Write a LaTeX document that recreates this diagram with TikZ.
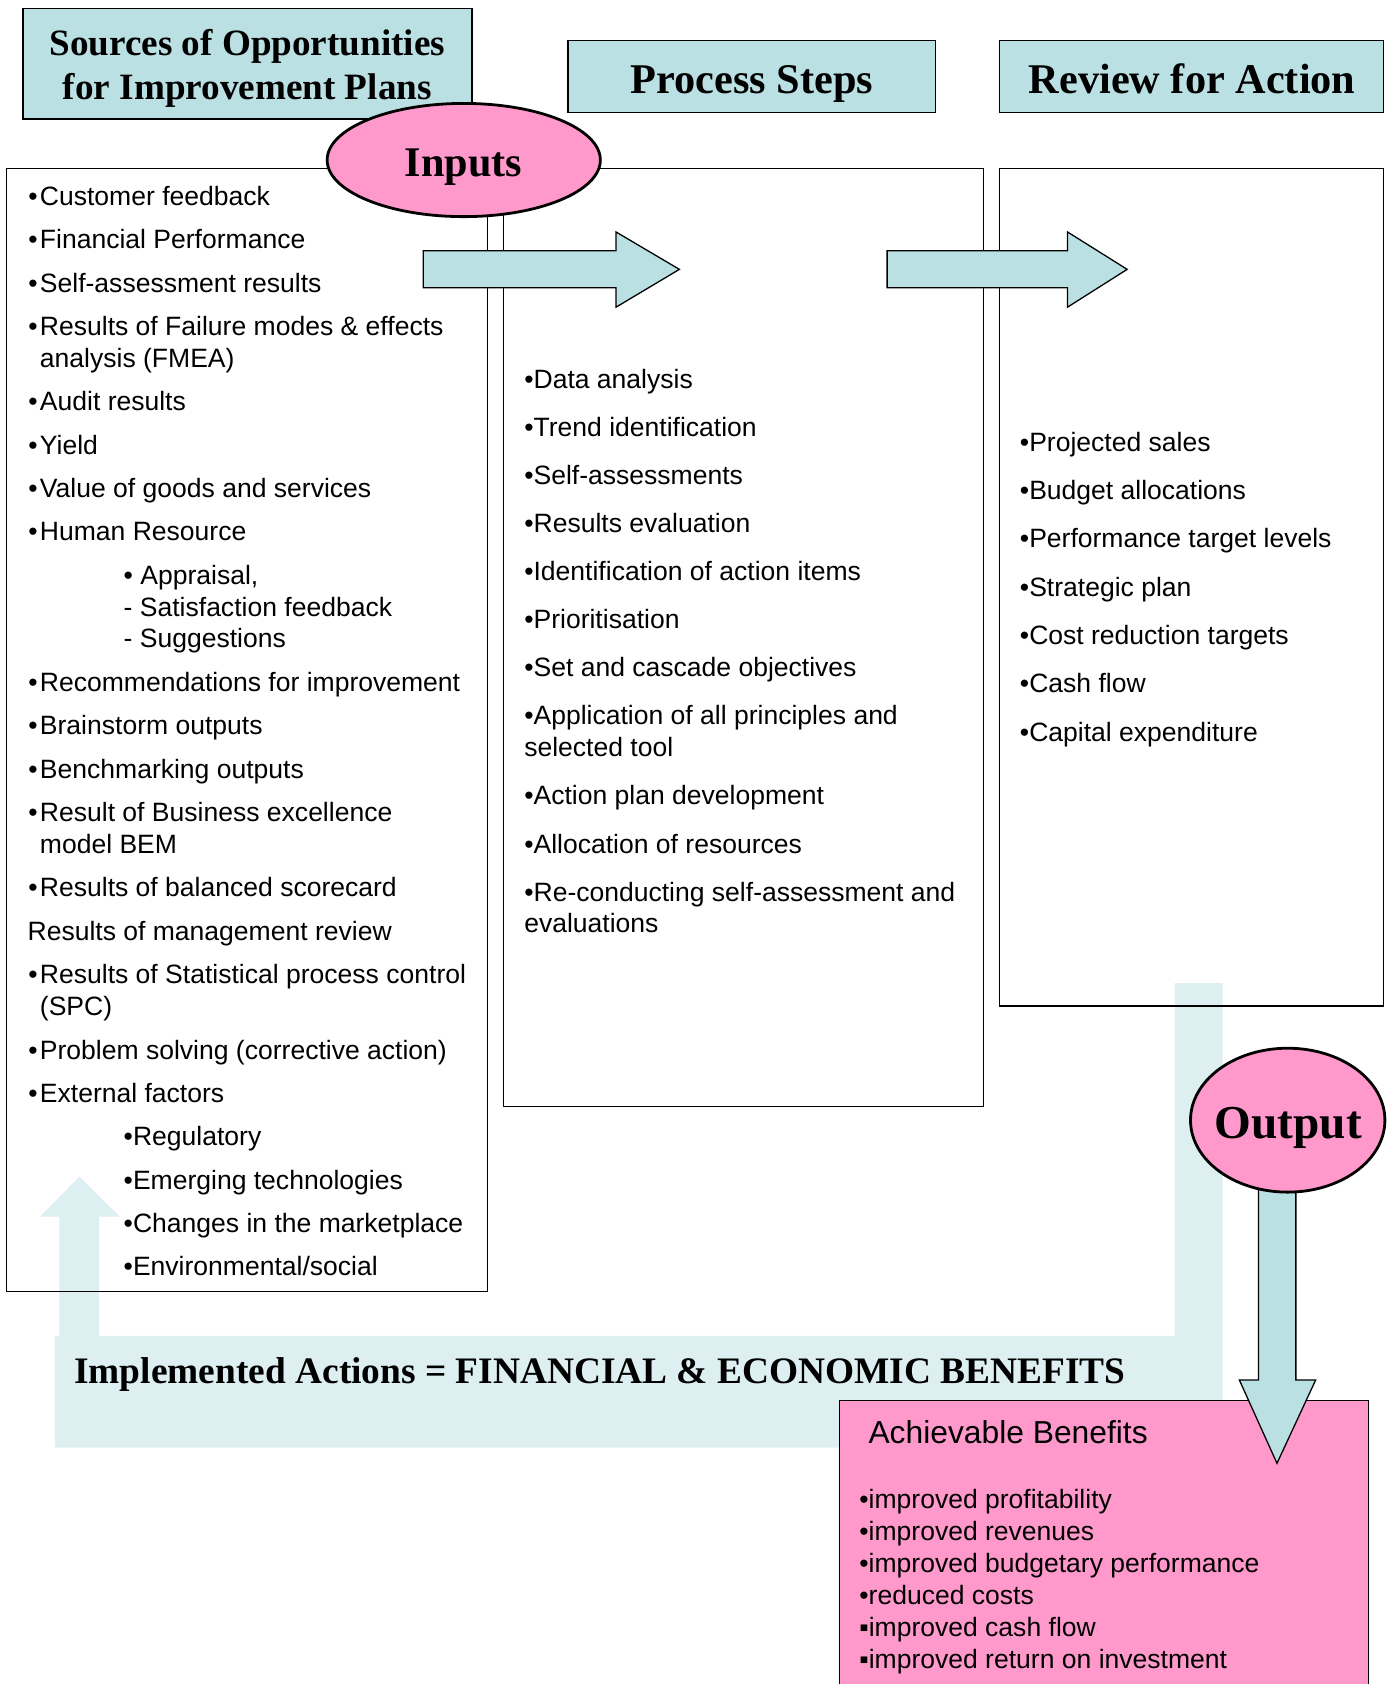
\documentclass[tikz,border=0pt]{standalone}
\usepackage{fontspec}
\setmainfont{Liberation Serif}
\newfontfamily\arial{Liberation Sans}
\usetikzlibrary{shapes.geometric}
\definecolor{hdrblue}{HTML}{BBE0E3}
\definecolor{paleblue}{HTML}{DDEFF1}
\definecolor{pinkfill}{HTML}{FF99CC}
\begin{document}
\begin{tikzpicture}[x=1pt,y=-1pt,
  frame/.style={draw=black, line width=1.3pt},
  hdrbox/.style={draw=black, line width=1.4pt, fill=hdrblue, inner sep=0pt},
  oval/.style={ellipse, draw=black, line width=2.6pt, fill=pinkfill, inner sep=0pt},
  blockarrow/.style={draw=black, line width=1.2pt, fill=hdrblue, line join=miter},
  itm/.style={anchor=base west, inner sep=0pt, yshift=-1pt, font=\arial\fontsize{24.7}{29.6}\selectfont},
  hdrtext/.style={anchor=base, inner sep=0pt, yshift=-2pt, font=\bfseries\fontsize{39.4}{44}\selectfont},
  srctext/.style={anchor=base, inner sep=0pt, yshift=-1.2pt, font=\bfseries\fontsize{34.6}{40}\selectfont}]
\clip (0,0) rectangle (1295,1568);
\fill[white] (0,0) rectangle (1295,1568);

% pale feedback loop arrow (behind everything)
\fill[paleblue] (1094,915.5) -- (1138.5,915.5) -- (1138.5,1348) -- (51,1348) -- (51,1243.8)
  -- (55.3,1243.8) -- (55.3,1132.8) -- (37.4,1132.8) -- (74,1095.5) -- (111.4,1132.8)
  -- (92.3,1132.8) -- (92.3,1243.8) -- (1094,1243.8) -- cycle;

% three column frames
\node[frame, minimum width=447.8pt, minimum height=1045.9pt, inner sep=0pt] (leftbox) at (230.1,679.65) {};
\node[frame, minimum width=446.5pt, minimum height=873.6pt, inner sep=0pt] (midbox) at (692.25,593.5) {};
\node[frame, minimum width=357.3pt, minimum height=779.9pt, inner sep=0pt] (rightbox) at (1109.35,546.65) {};

% header boxes
\node[hdrbox, minimum width=417.7pt, minimum height=103pt] (srchdr) at (230.45,59.3) {};
\node[hdrbox, minimum width=342.3pt, minimum height=67pt] (prochdr) at (699.85,71.4) {};
\node[hdrbox, minimum width=357.3pt, minimum height=67pt] (revhdr) at (1109.35,71.4) {};
\node[srctext] (srct1) at (230.3,50.6) {Sources of Opportunities};
\node[srctext] (srct2) at (230.3,91.5) {for Improvement Plans};
\node[hdrtext] (proct) at (700,85.4) {Process Steps};
\node[hdrtext] (revt) at (1110,85.4) {Review for Action};

% achievable benefits box
\node[draw=black, line width=1.3pt, fill=pinkfill, minimum width=492.3pt, minimum height=300pt, inner sep=0pt] (benbox) at (1027.85,1454) {};

% output arrow down into benefits box
\draw[blockarrow] (1171.7,1100) -- (1171.7,1285) -- (1154,1285) -- (1189,1362.5) -- (1225,1285)
  -- (1206.6,1285) -- (1206.6,1100) -- cycle;
\node[oval, minimum width=181pt, minimum height=134pt] (outp) at (1199,1043) {};
\node[anchor=base, inner sep=0pt, font=\bfseries\fontsize{44}{50}\selectfont] (outpt) at (1199.6,1060) {Output};

% block arrows between columns
\draw[blockarrow] (394,233.4) -- (573.6,233.4) -- (573.6,216) -- (632.6,250.8) -- (573.6,286)
  -- (573.6,268) -- (394,268) -- cycle;
\draw[blockarrow] (826,233.4) -- (994,233.4) -- (994,216) -- (1049.5,250.8) -- (994,286)
  -- (994,268) -- (826,268) -- cycle;

% inputs ellipse
\node[oval, minimum width=254.4pt, minimum height=105.4pt] (inp) at (431.8,149) {};
\node[anchor=base, inner sep=0pt, font=\bfseries\fontsize{39.3}{44}\selectfont] (inpt) at (431.4,164) {Inputs};

% loop caption
\node[anchor=base west, inner sep=0pt, font=\bfseries\fontsize{34.8}{40}\selectfont] (impl) at (69,1288) {Implemented Actions = FINANCIAL \& ECONOMIC BENEFITS};

% left list: bulleted main items
\foreach \yy/\txt [count=\i] in {190.5/Customer feedback, 230.8/Financial Performance,
  271/Self-assessment results, 311.3/Results of Failure modes \& effects, 381.5/Audit results,
  422/Yield, 462.3/Value of goods and services, 502.6/Human Resource,
  643/Recommendations for improvement, 683.3/Brainstorm outputs, 723.6/Benchmarking outputs,
  764/Result of Business excellence, 834.2/Results of balanced scorecard,
  915/Results of Statistical process control, 985.3/Problem solving (corrective action),
  1025.6/External factors}{
  \node[itm] (lb\i) at (26.3,\yy) {•};
  \node[itm] (lt\i) at (37,\yy) {\txt};
}
% left list: continuation lines
\node[itm] (lc1) at (37,341) {analysis (FMEA)};
\node[itm] (lc2) at (37,793.6) {model BEM};
\node[itm] (lc3) at (37,945) {(SPC)};
\node[itm] (lmr) at (25.5,875) {Results of management review};
% left list: sub items
\foreach \yy/\txt [count=\i] in {543/{• Appraisal,}, 572.6/- Satisfaction feedback, 602.3/- Suggestions,
  1066/•Regulatory, 1106.4/•Emerging technologies, 1146.7/•Changes in the marketplace,
  1187/{•Environmental/social}}{
  \node[itm] (ls\i) at (115,\yy) {\txt};
}

% middle list
\foreach \yy/\txt [count=\i] in {360.5/•Data analysis, 405/•Trend identification, 450/•Self-assessments,
  495/•Results evaluation, 539.5/•Identification of action items, 584.3/•Prioritisation,
  629/•Set and cascade objectives, 674/•Application of all principles and, 703.6/selected tool,
  748.5/•Action plan development, 793.3/•Allocation of resources,
  838/•Re-conducting self-assessment and, 867.6/evaluations}{
  \node[itm] (m\i) at (488,\yy) {\txt};
}

% right list
\foreach \yy/\txt [count=\i] in {419/•Projected sales, 464/•Budget allocations, 509/•Performance target levels,
  554/•Strategic plan, 599/•Cost reduction targets, 644/•Cash flow, 689/•Capital expenditure}{
  \node[itm] (r\i) at (949.5,\yy) {\txt};
}

% benefits list
\node[anchor=base west, inner sep=0pt, font=\arial\fontsize{29.6}{34}\selectfont] (bent) at (808.5,1343.6) {Achievable Benefits};
\foreach \yy/\txt [count=\i] in {1403.7/•improved profitability, 1433.5/•improved revenues,
  1463.3/•improved budgetary performance, 1493/•reduced costs, 1522.8/▪improved cash flow,
  1552.6/▪improved return on investment}{
  \node[itm] (b\i) at (800,\yy) {\txt};
}
\end{tikzpicture}
\end{document}
